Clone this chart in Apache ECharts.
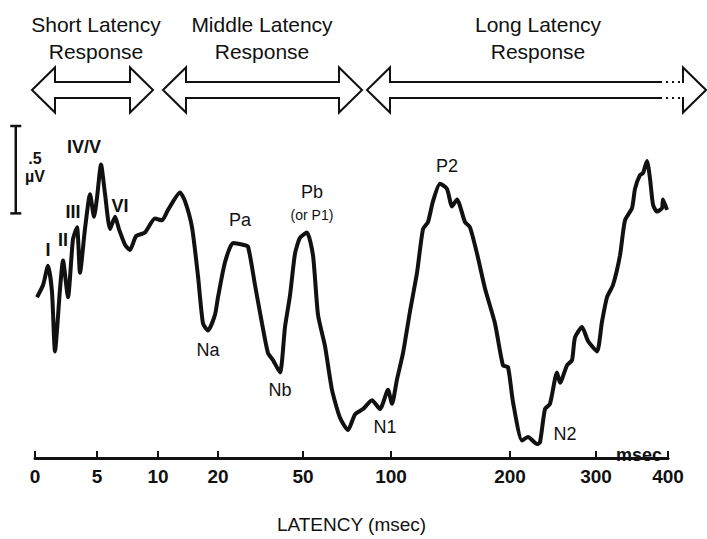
<!DOCTYPE html>
<html>
<head>
<meta charset="utf-8">
<script src="https://cdn.jsdelivr.net/npm/echarts@6/dist/echarts.min.js"></script>
<style>
  html, body { margin: 0; background: #fff; }
  #chart { width: 707px; height: 539px; }
</style>
</head>
<body>
<div id="chart"></div>
<script>
// waveform: latency (ms) and amplitude (µV)
const latencyMs = [
  0.16, 0.65, 1.05, 1.37, 1.61, 2.02, 2.26, 2.66, 3.06, 3.39,
  3.63, 4.03, 4.44, 4.76, 5.0, 5.33, 5.66, 6.07, 6.48, 6.80,
  7.30, 7.70, 8.20, 8.93, 9.75, 10.67, 11.67, 13.67, 14.5, 15.67,
  16.67, 17.5, 18.33, 19.5, 20.0, 22.47, 25.29, 28.82, 30.59, 33.06,
  35.53, 37.65, 39.41, 41.88, 43.65, 45.41, 47.18, 48.94, 52.27, 55.68,
  58.52, 62.5, 66.48, 71.02, 75.57, 79.55, 84.09, 89.2, 93.75, 98.3,
  100.84, 105.04, 110.08, 115.97, 121.85, 126.89, 131.09, 135.29, 141.18, 147.06,
  151.26, 155.46, 162.18, 166.39, 172.27, 178.99, 187.39, 194.12, 198.32, 203.49,
  213.95, 220.93, 231.4, 234.88, 240.7, 246.5, 254.65, 258.14, 266.28, 272.09,
  275.58, 283.72, 290.7, 301.39, 308.33, 315.28, 323.61, 333.33, 340.28, 350.0,
  354.17, 361.11, 365.28, 370.83, 375.0, 379.17, 384.72, 391.67, 393.06, 398.61
];
const amplitudeUV = [
  0.02, 0.09, 0.20, 0.05, -0.29, 0.07, 0.23, 0.02, 0.35, 0.42,
  0.16, 0.41, 0.61, 0.48, 0.59, 0.78, 0.61, 0.41, 0.48, 0.41,
  0.32, 0.29, 0.37, 0.39, 0.47, 0.46, 0.52, 0.62, 0.57, 0.42,
  0.14, -0.13, -0.17, -0.08, 0.02, 0.22, 0.33, 0.32, 0.31, 0.09,
  -0.13, -0.30, -0.34, -0.41, -0.15, 0.03, 0.27, 0.36, 0.39, 0.26,
  -0.08, -0.26, -0.51, -0.67, -0.74, -0.65, -0.62, -0.57, -0.62, -0.51,
  -0.59, -0.45, -0.30, -0.06, 0.16, 0.41, 0.45, 0.57, 0.67, 0.64,
  0.54, 0.58, 0.45, 0.42, 0.27, 0.07, -0.13, -0.37, -0.38, -0.58,
  -0.80, -0.78, -0.82, -0.81, -0.62, -0.59, -0.41, -0.47, -0.37, -0.34,
  -0.21, -0.15, -0.23, -0.29, -0.12, 0.02, 0.09, 0.26, 0.46, 0.53,
  0.64, 0.72, 0.73, 0.80, 0.70, 0.55, 0.51, 0.53, 0.58, 0.52
];

// component names and where their labels sit (ms, µV)
const peakNames = ['I', 'II', 'III', 'IV/V', 'VI', 'Na', 'Pa', 'Nb', 'Pb', '(or P1)', 'N1', 'P2', 'N2'];
const peakLabelMs = [1.05, 2.26, 3.06, 3.95, 6.89, 18.33, 27.8, 41.9, 55.1, 55.1, 96.6, 147.1, 264];
const peakLabelUV = [0.29, 0.35, 0.51, 0.88, 0.54, -0.28, 0.46, -0.51, 0.62, 0.49, -0.72, 0.77, -0.76];

const tickLatencies = [0, 5, 10, 20, 50, 100, 200, 300, 400];
const scaleBarUV = [0.5, 1.0];
const scaleBarMs = -1.55;

// the latency axis is stretched piecewise (linear early, compressed later)
const axisStops = [0, 62, 123, 183, 268, 356, 475, 561, 633];
const warp = (t) => {
  let i = 0;
  while (i < tickLatencies.length - 2 && t > tickLatencies[i + 1]) i++;
  const t0 = tickLatencies[i], t1 = tickLatencies[i + 1];
  const u0 = axisStops[i], u1 = axisStops[i + 1];
  return u0 + ((t - t0) / (t1 - t0)) * (u1 - u0);
};
const tickUnits = tickLatencies.map(warp);

const INK = '#111';
const FONT = '"Liberation Sans", Arial, sans-serif';

const arrow = (x0, x1, yc) => {
  const h = 22.5, s = 8, head = 23;
  return [
    [x0, yc], [x0 + head, yc - h], [x0 + head, yc - s], [x1 - head, yc - s],
    [x1 - head, yc - h], [x1, yc], [x1 - head, yc + h], [x1 - head, yc + s],
    [x0 + head, yc + s], [x0 + head, yc + h]
  ];
};

const headerText = (text, x) => ({
  type: 'text', x: x, y: 11,
  style: { text: text, font: '21px ' + FONT, fill: INK, align: 'center', lineHeight: 27 }
});

const chart = echarts.init(document.getElementById('chart'), undefined, { renderer: 'svg' });

chart.setOption({
  animation: false,
  backgroundColor: '#fff',
  grid: { left: 35, right: 39, top: 126, bottom: 71 },
  xAxis: {
    type: 'value',
    min: 0,
    max: 633,
    name: 'LATENCY (msec)',
    nameLocation: 'middle',
    nameGap: 57,
    nameTextStyle: { fontSize: 19, color: INK, fontFamily: FONT },
    axisLine: { onZero: false, lineStyle: { color: INK, width: 3 } },
    axisTick: {
      inside: true,
      length: 7,
      customValues: tickUnits,
      lineStyle: { color: INK, width: 2 }
    },
    axisLabel: {
      customValues: tickUnits,
      margin: 9,
      fontSize: 19,
      fontWeight: 'bold',
      color: INK,
      fontFamily: FONT,
      formatter: (v) => {
        const i = tickUnits.findIndex((u) => Math.abs(u - v) < 0.01);
        return i >= 0 ? String(tickLatencies[i]) : '';
      }
    },
    splitLine: { show: false }
  },
  yAxis: { type: 'value', min: -0.9, max: 1.0, show: false },
  graphic: [
    headerText('Short Latency\nResponse', 96),
    headerText('Middle Latency\nResponse', 262),
    headerText('Long Latency\nResponse', 538),
    { type: 'polygon', shape: { points: arrow(32, 153, 90) }, style: { fill: '#fff', stroke: INK, lineWidth: 2 } },
    { type: 'polygon', shape: { points: arrow(163, 362, 90) }, style: { fill: '#fff', stroke: INK, lineWidth: 2 } },
    { type: 'polygon', shape: { points: arrow(367, 706, 90) }, style: { fill: '#fff', stroke: INK, lineWidth: 2 } },
    { type: 'rect', shape: { x: 660, y: 80, width: 22, height: 20 }, style: { fill: '#fff' } },
    { type: 'line', shape: { x1: 660, y1: 82, x2: 683, y2: 82 }, style: { stroke: INK, lineWidth: 2, lineDash: [2, 4] } },
    { type: 'line', shape: { x1: 660, y1: 98, x2: 683, y2: 98 }, style: { stroke: INK, lineWidth: 2, lineDash: [2, 4] } },
    { type: 'text', x: 35, y: 150, style: { text: '.5', font: 'bold 16px ' + FONT, fill: INK, align: 'center' } },
    { type: 'text', x: 35, y: 168, style: { text: 'µV', font: 'bold 16px ' + FONT, fill: INK, align: 'center' } },
    { type: 'text', x: 639, y: 446, style: { text: 'msec', font: 'bold 18px ' + FONT, fill: INK, align: 'center' } }
  ],
  series: [
    {
      type: 'line',
      data: latencyMs.map((t, i) => [warp(t), amplitudeUV[i]]),
      showSymbol: false,
      smooth: 0.2,
      lineStyle: { color: INK, width: 4 },
      silent: true
    },
    {
      // .5 µV calibration bar, left of the time origin
      type: 'custom',
      clip: false,
      silent: true,
      data: [[warp(scaleBarMs), scaleBarUV[0], scaleBarUV[1]]],
      renderItem: (params, api) => {
        const lo = api.coord([api.value(0), api.value(1)]);
        const hi = api.coord([api.value(0), api.value(2)]);
        const cap = 5.5;
        const style = { stroke: INK, lineWidth: 2.5 };
        return {
          type: 'group',
          children: [
            { type: 'line', shape: { x1: lo[0], y1: lo[1], x2: hi[0], y2: hi[1] }, style: style },
            { type: 'line', shape: { x1: lo[0] - cap, y1: lo[1], x2: lo[0] + cap, y2: lo[1] }, style: style },
            { type: 'line', shape: { x1: hi[0] - cap, y1: hi[1], x2: hi[0] + cap, y2: hi[1] }, style: style }
          ]
        };
      }
    },
    {
      type: 'scatter',
      symbolSize: 0,
      silent: true,
      itemStyle: { opacity: 1 },
      data: peakNames.map((name, i) => ({
        value: [warp(peakLabelMs[i]), peakLabelUV[i]],
        label: {
          show: true,
          position: 'inside',
          formatter: name,
          color: INK,
          fontFamily: FONT,
          fontSize: name === '(or P1)' ? 14 : 18,
          fontWeight: i < 5 ? 'bold' : 'normal'
        }
      }))
    }
  ]
});
</script>
</body>
</html>
